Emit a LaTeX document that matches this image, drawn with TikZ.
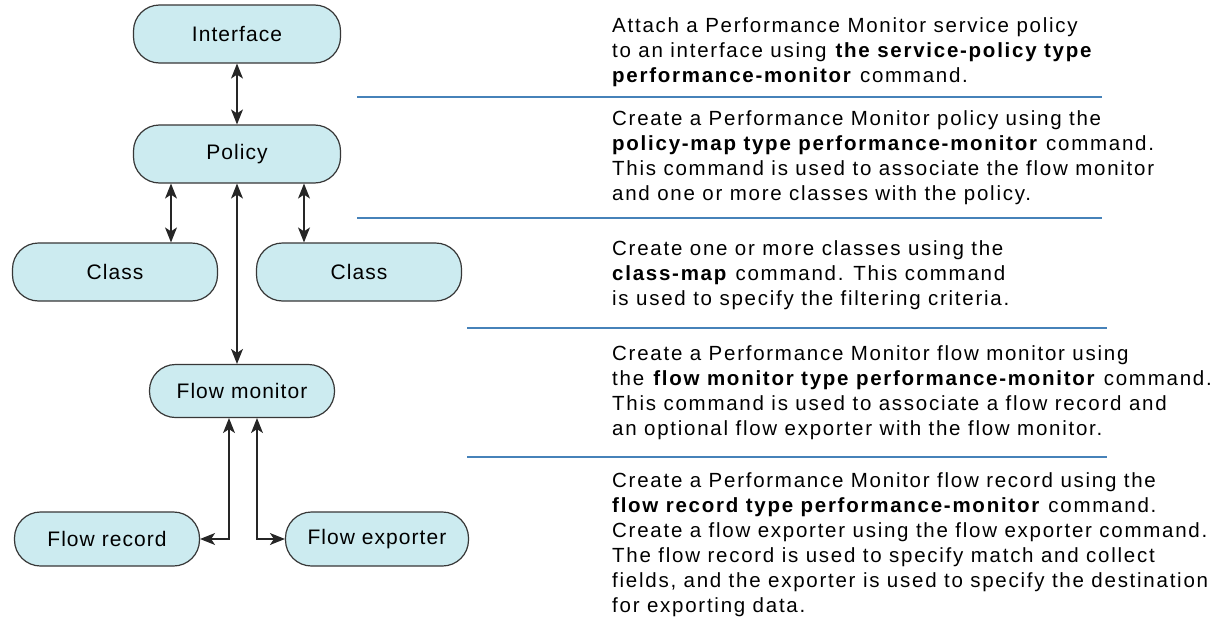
\documentclass[tikz,border=0pt]{standalone}
\usepackage{fontspec}
\setmainfont{Liberation Sans}
\newfontfamily\nodefnt[LetterSpace=5]{Liberation Sans}
\newfontfamily\descfnt[LetterSpace=8.5]{Liberation Sans}
\usetikzlibrary{arrows.meta}
\definecolor{boxfill}{RGB}{204,235,240}
\definecolor{boxline}{RGB}{55,55,55}
\definecolor{rulecol}{RGB}{70,130,185}
\begin{document}
\begin{tikzpicture}[x=1pt,y=-1pt,
  pill/.style={draw=boxline, fill=boxfill, line width=1.2pt, rounded corners=26pt,
    minimum height=58pt, inner sep=0pt, font=\nodefnt\fontsize{21}{25}\selectfont},
  link/.style={line width=1.3pt, draw=black!85,
    arrows={Stealth[length=15pt,width=12pt,inset=4pt]-Stealth[length=15pt,width=12pt,inset=4pt]}},
  sepline/.style={draw=rulecol, line width=2.2pt},
  desc/.style={anchor=north west, inner sep=0pt, align=left,
    font=\descfnt\fontsize{20.5}{25}\selectfont}]
\useasboundingbox[fill=white] (0,0) rectangle (1229,621);

% nodes
\node[pill, minimum width=207pt] (iface) at (237,34) {Interface};
\node[pill, minimum width=207pt] (policy) at (237,154) {Policy};
\node[pill, minimum width=205pt] (classL) at (115,272) {Class};
\node[pill, minimum width=205pt] (classR) at (359,272) {Class};
\node[pill, minimum width=185pt, minimum height=53pt] (fmon) at (242,391) {Flow monitor};
\node[pill, minimum width=185pt, minimum height=54pt] (frec) at (107,539) {Flow record};
\node[pill, minimum width=183pt, minimum height=54pt] (fexp) at (377,539) {Flow exporter};

% helper x positions
\coordinate (xL) at (171,0);
\coordinate (xR) at (304,0);
\coordinate (xA) at (229,0);
\coordinate (xB) at (257,0);

% connectors
\draw[link] (iface.south) -- (policy.north);
\draw[link] (policy.south -| xL) -- (classL.north -| xL);
\draw[link] (policy.south -| xR) -- (classR.north -| xR);
\draw[link] (policy.south) -- (fmon.north -| policy.south);
\draw[link] (fmon.south -| xA) |- (frec.east);
\draw[link] (fmon.south -| xB) |- (fexp.west);

% separators
\draw[sepline] (357,97) -- (1102,97);
\draw[sepline] (357,218) -- (1102,218);
\draw[sepline] (467,328) -- (1107,328);
\draw[sepline] (467,457) -- (1107,457);

% descriptions
\node[desc] (d1) at (612,14.5) {\strut Attach a Performance Monitor service policy\\
to an interface using \textbf{the service-policy type}\\
\textbf{performance-monitor} command.};
\node[desc] (d2) at (612,107.5) {\strut Create a Performance Monitor policy using the\\
\textbf{policy-map type performance-monitor} command.\\
This command is used to associate the flow monitor\\
and one or more classes with the policy.};
\node[desc] (d3) at (612,237.5) {\strut Create one or more classes using the\\
\textbf{class-map} command. This command\\
is used to specify the filtering criteria.};
\node[desc] (d4) at (612,342.5) {\strut Create a Performance Monitor flow monitor using\\
the \textbf{flow monitor type performance-monitor} command.\\
This command is used to associate a flow record and\\
an optional flow exporter with the flow monitor.};
\node[desc] (d5) at (612,469.5) {\strut Create a Performance Monitor flow record using the\\
\textbf{flow record type performance-monitor} command.\\
Create a flow exporter using the flow exporter command.\\
The flow record is used to specify match and collect\\
fields, and the exporter is used to specify the destination\\
for exporting data.};
\end{tikzpicture}
\end{document}
